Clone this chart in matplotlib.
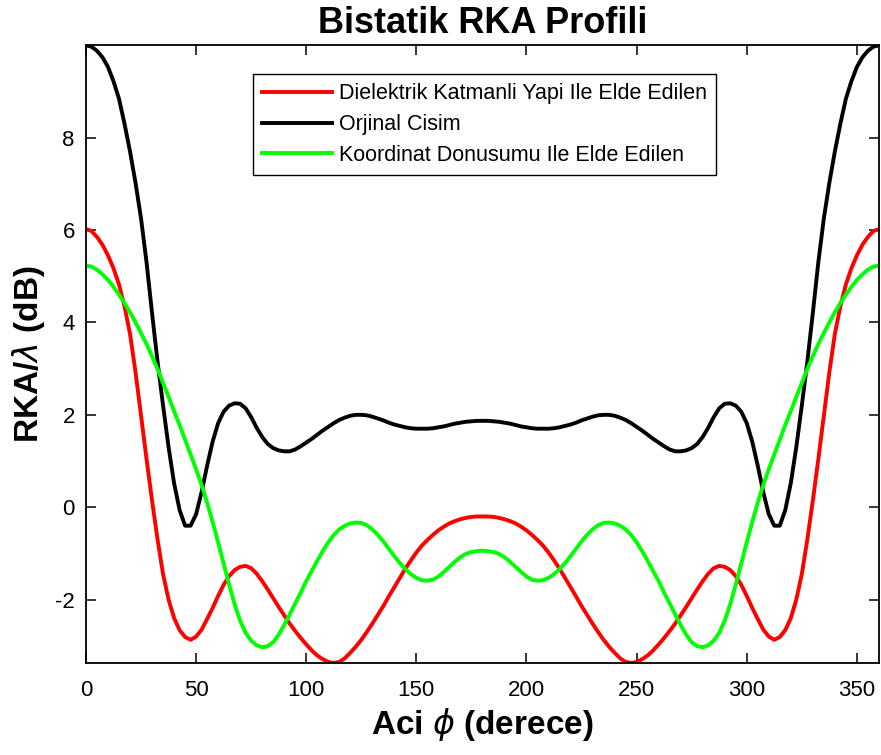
import numpy as np
import matplotlib
matplotlib.use("Agg")
import matplotlib.pyplot as plt

plt.rcParams['font.family'] = ['Liberation Sans', 'DejaVu Sans']
plt.rcParams['axes.unicode_minus'] = False
plt.rcParams['mathtext.fontset'] = 'dejavusans'

# angle samples (degrees), every 2.5 deg from 0 to 360
angle = np.linspace(0, 360, 145)

# Dielektrik Katmanli Yapi Ile Elde Edilen (red)
rka_dielektrik = [
    6.02, 5.98, 5.85, 5.68, 5.45, 5.17, 4.82, 4.35, 3.75, 2.92, 1.98, 1.04,
    0.14, -0.70, -1.45, -2.00, -2.40, -2.66, -2.81, -2.87, -2.80, -2.65, -2.42, -2.18,
    -1.92, -1.68, -1.49, -1.36, -1.29, -1.27, -1.32, -1.44, -1.60, -1.78, -1.97, -2.16,
    -2.34, -2.52, -2.68, -2.83, -2.97, -3.10, -3.21, -3.29, -3.35, -3.37, -3.35, -3.27,
    -3.15, -3.02, -2.87, -2.70, -2.52, -2.33, -2.14, -1.93, -1.73, -1.53, -1.33, -1.15,
    -0.98, -0.83, -0.71, -0.60, -0.50, -0.42, -0.35, -0.30, -0.26, -0.23, -0.21, -0.20,
    -0.20,
    -0.20, -0.21, -0.23, -0.26, -0.30, -0.35, -0.42, -0.50, -0.60, -0.71, -0.83, -0.98,
    -1.15, -1.33, -1.53, -1.73, -1.93, -2.14, -2.33, -2.52, -2.70, -2.87, -3.02, -3.15,
    -3.27, -3.35, -3.37, -3.35, -3.29, -3.21, -3.10, -2.97, -2.83, -2.68, -2.52, -2.34,
    -2.16, -1.97, -1.78, -1.60, -1.44, -1.32, -1.27, -1.29, -1.36, -1.49, -1.68, -1.92,
    -2.18, -2.42, -2.65, -2.80, -2.87, -2.81, -2.66, -2.40, -2.00, -1.45, -0.70, 0.14,
    1.04, 1.98, 2.92, 3.75, 4.35, 4.82, 5.17, 5.45, 5.68, 5.85, 5.98, 6.02,
]

# Orjinal Cisim (black)
rka_orjinal = [
    10.00, 9.97, 9.88, 9.74, 9.53, 9.22, 8.84, 8.30, 7.70, 7.02, 6.25, 5.30,
    4.20, 3.15, 2.20, 1.30, 0.52, -0.06, -0.40, -0.40, -0.15, 0.33, 0.90, 1.42,
    1.82, 2.07, 2.20, 2.25, 2.24, 2.14, 1.95, 1.72, 1.52, 1.37, 1.28, 1.23,
    1.21, 1.21, 1.25, 1.32, 1.40, 1.48, 1.57, 1.66, 1.74, 1.82, 1.89, 1.94,
    1.98, 2.00, 2.00, 1.99, 1.96, 1.92, 1.88, 1.83, 1.79, 1.76, 1.73, 1.71,
    1.70, 1.70, 1.70, 1.71, 1.73, 1.75, 1.78, 1.81, 1.83, 1.85, 1.86, 1.87,
    1.87,
    1.87, 1.86, 1.85, 1.83, 1.81, 1.78, 1.75, 1.73, 1.71, 1.70, 1.70, 1.70,
    1.71, 1.73, 1.76, 1.79, 1.83, 1.88, 1.92, 1.96, 1.99, 2.00, 2.00, 1.98,
    1.94, 1.89, 1.82, 1.74, 1.66, 1.57, 1.48, 1.40, 1.32, 1.25, 1.21, 1.21,
    1.23, 1.28, 1.37, 1.52, 1.72, 1.95, 2.14, 2.24, 2.25, 2.20, 2.07, 1.82,
    1.42, 0.90, 0.33, -0.15, -0.40, -0.40, -0.06, 0.52, 1.30, 2.20, 3.15, 4.20,
    5.30, 6.25, 7.02, 7.70, 8.30, 8.84, 9.22, 9.53, 9.74, 9.88, 9.97, 10.00,
]

# Koordinat Donusumu Ile Elde Edilen (green)
rka_koordinat = [
    5.23, 5.21, 5.14, 5.04, 4.92, 4.77, 4.60, 4.42, 4.22, 4.00, 3.77, 3.53,
    3.27, 2.99, 2.69, 2.39, 2.08, 1.78, 1.46, 1.14, 0.82, 0.48, 0.10, -0.32,
    -0.76, -1.22, -1.68, -2.10, -2.46, -2.72, -2.89, -2.99, -3.03, -3.01, -2.92, -2.76,
    -2.55, -2.32, -2.08, -1.85, -1.60, -1.38, -1.16, -0.95, -0.76, -0.60, -0.48, -0.40,
    -0.35, -0.33, -0.34, -0.39, -0.48, -0.60, -0.74, -0.90, -1.06, -1.21, -1.34, -1.45,
    -1.53, -1.58, -1.59, -1.57, -1.50, -1.40, -1.29, -1.18, -1.08, -1.01, -0.97, -0.95,
    -0.94,
    -0.95, -0.97, -1.01, -1.08, -1.18, -1.29, -1.40, -1.50, -1.57, -1.59, -1.58, -1.53,
    -1.45, -1.34, -1.21, -1.06, -0.90, -0.74, -0.60, -0.48, -0.39, -0.34, -0.33, -0.35,
    -0.40, -0.48, -0.60, -0.76, -0.95, -1.16, -1.38, -1.60, -1.85, -2.08, -2.32, -2.55,
    -2.76, -2.92, -3.01, -3.03, -2.99, -2.89, -2.72, -2.46, -2.10, -1.68, -1.22, -0.76,
    -0.32, 0.10, 0.48, 0.82, 1.14, 1.46, 1.78, 2.08, 2.39, 2.69, 2.99, 3.27,
    3.53, 3.77, 4.00, 4.22, 4.42, 4.60, 4.77, 4.92, 5.04, 5.14, 5.21, 5.23,
]

labels = ["Dielektrik Katmanli Yapi Ile Elde Edilen",
          "Orjinal Cisim",
          "Koordinat Donusumu Ile Elde Edilen"]
x_ticks = [0, 50, 100, 150, 200, 250, 300, 350]
y_ticks = [-2, 0, 2, 4, 6, 8]

fig = plt.figure(figsize=(8.81, 7.55), dpi=100)
ax = fig.add_axes([0.0976, 0.122, 0.9, 0.818])

ax.plot(angle, rka_dielektrik, color=(1, 0, 0), lw=2.8, label=labels[0])
ax.plot(angle, rka_orjinal, color='black', lw=2.8, label=labels[1])
ax.plot(angle, rka_koordinat, color=(0, 1, 0), lw=2.8, label=labels[2])

all_vals = rka_dielektrik + rka_orjinal + rka_koordinat
ax.set_xlim(0, 360)
ax.set_ylim(min(all_vals), max(all_vals))
ax.set_xticks(x_ticks)
ax.set_yticks(y_ticks)
ax.tick_params(direction='in', length=7, width=1.1, top=True, right=True,
               labelsize=16)
ax.tick_params(axis='x', pad=12)
ax.tick_params(axis='y', pad=8)
for s in ax.spines.values():
    s.set_linewidth(1.3)

ax.set_title("Bistatik RKA Profili", fontsize=26, fontweight='bold', pad=9)
ax.set_xlabel(r"Aci $\phi$ (derece)", fontsize=24, fontweight='bold', labelpad=4)
ax.set_ylabel(r"RKA/$\lambda$ (dB)", fontsize=24, fontweight='bold', labelpad=6)

leg = ax.legend(loc='upper left', bbox_to_anchor=(0.2106, 0.953), borderaxespad=0,
                fontsize=15.5, handlelength=3.25, handletextpad=0.33,
                labelspacing=0.45, borderpad=0.42, fancybox=False, framealpha=1)
leg.get_frame().set_edgecolor('black')
leg.get_frame().set_linewidth(1.0)

fig.savefig("out.png", dpi=100)
